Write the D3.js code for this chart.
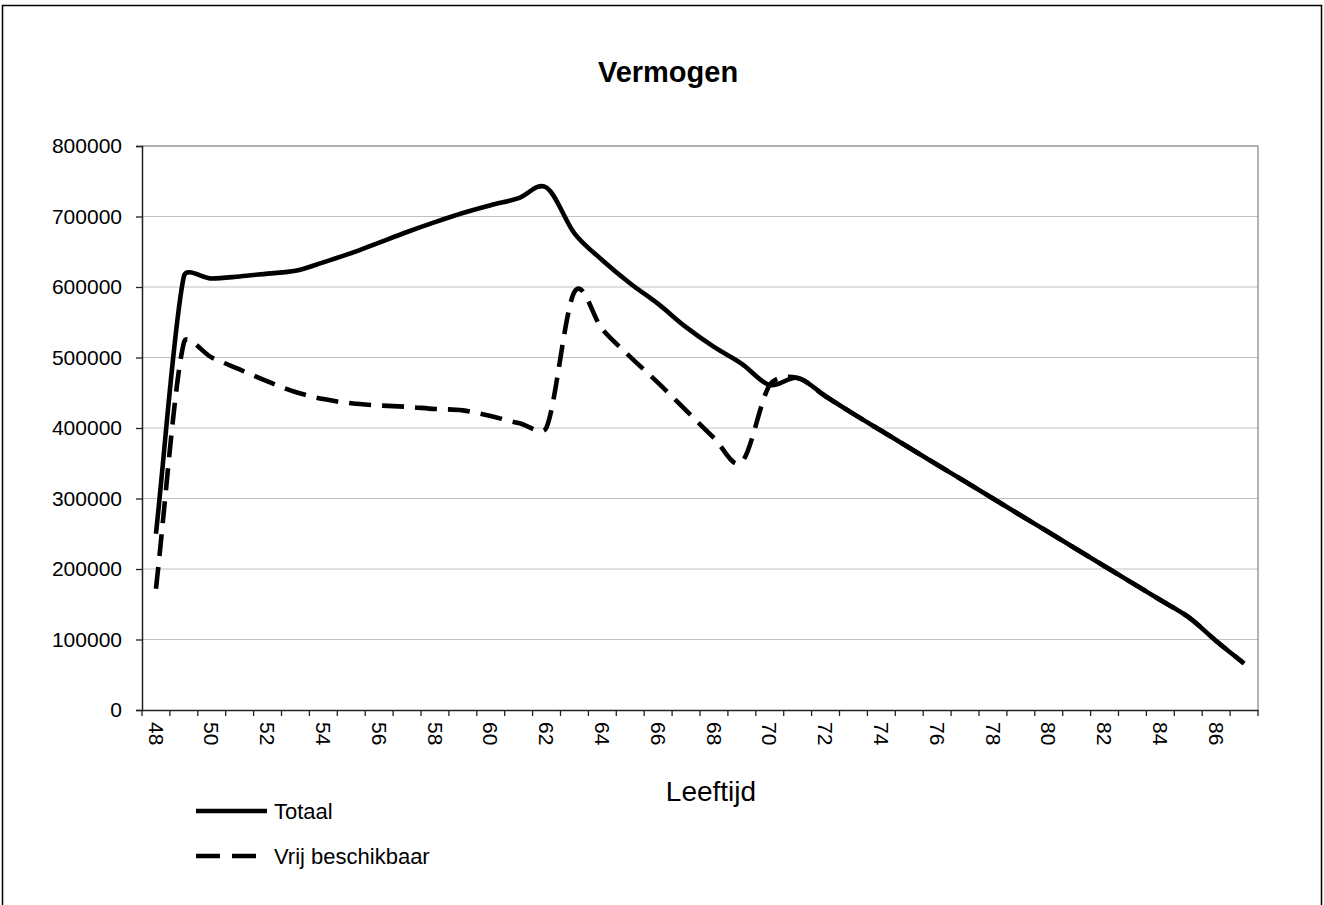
<!DOCTYPE html>
<html>
<head>
<meta charset="utf-8">
<script src="https://cdn.jsdelivr.net/npm/d3@7"></script>
<style>
  html, body { margin: 0; padding: 0; background: #fff; }
  svg { display: block; font-family: "Liberation Sans", Arial, sans-serif; }
</style>
</head>
<body>
<svg id="chart" width="1324" height="905"></svg>
<script>
// ---- data ----
const ages = [48,49,50,51,52,53,54,55,56,57,58,59,60,61,62,63,64,65,66,67,
              68,69,70,71,72,73,74,75,76,77,78,79,80,81,82,83,84,85,86,87];
const totaal = [250000,615000,612000,615000,619000,623000,635000,648000,663000,678000,
                692000,705000,716000,726000,741000,676000,638000,605000,576000,543000,
                515000,491000,461000,471000,445000,420000,396000,372000,348000,324000,
                300000,276000,252000,228000,204000,180000,156000,132000,98000,66000];
const vrij = [172000,521000,500000,483000,466000,451000,441000,435000,432000,430000,
              427000,425000,417000,407000,401000,593000,540000,501000,464000,425000,
              386000,352000,461000,471000,445000,420000,396000,372000,348000,324000,
              300000,276000,252000,228000,204000,180000,156000,132000,98000,66000];
const yTicks = [0,100000,200000,300000,400000,500000,600000,700000,800000];
const labelAges = ages.filter(a => a % 2 === 0);
const seriesNames = ["Totaal", "Vrij beschikbaar"];
const title = "Vermogen";
const xTitle = "Leeftijd";

// smoothed curve (Catmull-Rom with limited handles, like spreadsheet smoothing)
function curveSmooth(context) {
  let pts;
  return {
    areaStart() {}, areaEnd() {},
    lineStart() { pts = []; },
    point(x, y) { pts.push([+x, +y]); },
    lineEnd() {
      const n = pts.length;
      if (!n) return;
      context.moveTo(pts[0][0], pts[0][1]);
      const tan = pts.map((p, i) => {
        const a = pts[Math.max(0, i - 1)], b = pts[Math.min(n - 1, i + 1)];
        const f = (i === 0 || i === n - 1) ? 1 : 0.5;
        return [(b[0] - a[0]) * f, (b[1] - a[1]) * f];
      });
      for (let i = 0; i < n - 1; i++) {
        const p = pts[i], q = pts[i + 1];
        const seg = Math.hypot(q[0] - p[0], q[1] - p[1]);
        const h = t => {
          let hx = t[0] / 3, hy = t[1] / 3;
          const l = Math.hypot(hx, hy), m = seg * 0.38;
          if (l > m) { hx *= m / l; hy *= m / l; }
          return [hx, hy];
        };
        const h1 = h(tan[i]), h2 = h(tan[i + 1]);
        context.bezierCurveTo(p[0] + h1[0], p[1] + h1[1], q[0] - h2[0], q[1] - h2[1], q[0], q[1]);
      }
    }
  };
}

// ---- layout ----
const svg = d3.select("#chart");
const L = 142, R = 1258, T = 146, B = 710;

// outer frame
svg.append("rect").attr("x", 2.5).attr("y", 5.5).attr("width", 1319).attr("height", 1000)
  .attr("fill", "none").attr("stroke", "#000").attr("stroke-width", 1.5);

const x = d3.scaleBand().domain(ages).range([L, R]).padding(0);
const y = d3.scaleLinear().domain([0, 800000]).range([B, T]);

// gridlines
svg.append("g").selectAll("line").data(yTicks.filter(d => d > 0)).join("line")
  .attr("x1", L).attr("x2", R).attr("y1", d => y(d)).attr("y2", d => y(d))
  .attr("stroke", "#c0c0c0").attr("stroke-width", 1);

// plot border (top/right)
svg.append("path").attr("d", `M${L},${T}H${R}V${B}`)
  .attr("fill", "none").attr("stroke", "#808080").attr("stroke-width", 1.2);

// y axis
const yAxis = svg.append("g").attr("transform", `translate(${L},0)`)
  .call(d3.axisLeft(y).tickValues(yTicks).tickSize(6).tickPadding(14).tickFormat(d3.format("d")));
yAxis.select(".domain").attr("stroke", "#222").attr("stroke-width", 1.5);
yAxis.selectAll(".tick line").attr("stroke", "#222").attr("stroke-width", 1.3);
yAxis.selectAll(".tick text").attr("font-size", 21).attr("fill", "#000")
  .attr("font-family", "Liberation Sans, Arial, sans-serif");

// x axis: boundary ticks
const bounds = ages.map(a => x(a)).concat([R]);
svg.append("g").selectAll("line").data(bounds).join("line")
  .attr("x1", d => d).attr("x2", d => d).attr("y1", B).attr("y2", B + 6)
  .attr("stroke", "#222").attr("stroke-width", 1.3);
const xAxis = svg.append("g").attr("transform", `translate(0,${B})`)
  .call(d3.axisBottom(x).tickValues(labelAges).tickSize(0).tickPadding(0));
xAxis.select(".domain").attr("stroke", "#222").attr("stroke-width", 1.5);
xAxis.selectAll(".tick text")
  .attr("font-size", 21).attr("fill", "#000")
  .attr("font-family", "Liberation Sans, Arial, sans-serif")
  .attr("text-anchor", "start")
  .attr("transform", "translate(0,12) rotate(90)")
  .attr("x", 0).attr("y", 0).attr("dy", "0.35em");

// lines
const line = d3.line()
  .x((d, i) => x(ages[i]) + x.bandwidth() / 2)
  .y(d => y(d))
  .curve(curveSmooth);

svg.append("path").datum(totaal).attr("d", line)
  .attr("fill", "none").attr("stroke", "#000").attr("stroke-width", 4.6)
  .attr("stroke-linejoin", "round");
svg.append("path").datum(vrij).attr("d", line)
  .attr("fill", "none").attr("stroke", "#000").attr("stroke-width", 4.6)
  .attr("stroke-dasharray", "22,11");

// title
svg.append("text").attr("x", 668).attr("y", 82).attr("text-anchor", "middle")
  .attr("font-size", 29).attr("font-weight", "bold").text(title);

// x title
svg.append("text").attr("x", 711).attr("y", 801).attr("text-anchor", "middle")
  .attr("font-size", 28).text(xTitle);

// legend
const leg = svg.append("g");
const legY = [811, 856];
leg.append("line").attr("x1", 196).attr("x2", 267).attr("y1", legY[0]).attr("y2", legY[0])
  .attr("stroke", "#000").attr("stroke-width", 4.6);
leg.append("line").attr("x1", 196).attr("x2", 257).attr("y1", legY[1]).attr("y2", legY[1])
  .attr("stroke", "#000").attr("stroke-width", 4.6).attr("stroke-dasharray", "24,12");
seriesNames.forEach((s, i) => {
  leg.append("text").attr("x", 274).attr("y", legY[i] + 7.5)
    .attr("font-size", 22).text(s);
});
</script>
</body>
</html>
